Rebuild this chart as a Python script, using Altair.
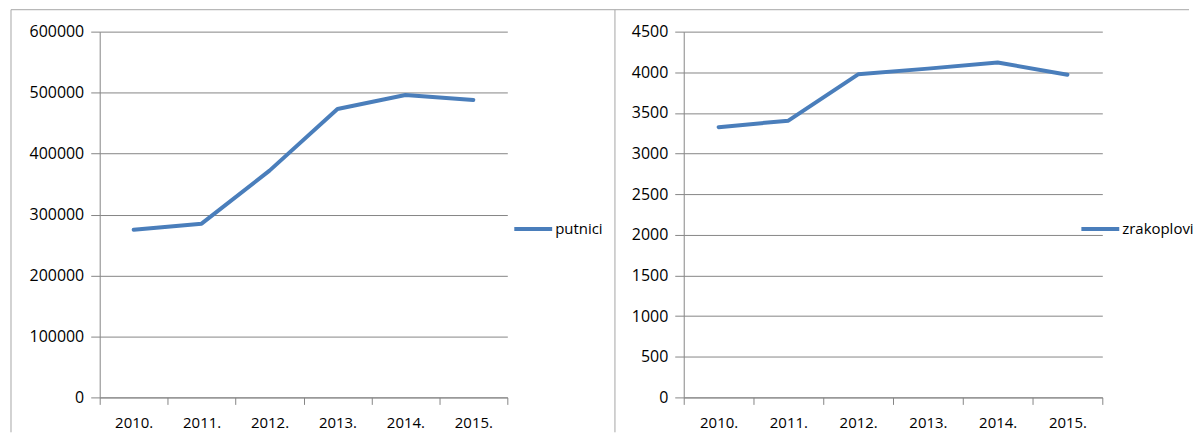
import altair as alt
import pandas as pd

godine = ["2010.", "2011.", "2012.", "2013.", "2014.", "2015."]
putnici = [275000, 285000, 372000, 473000, 496000, 488000]
zrakoplovi = [3325, 3405, 3975, 4045, 4120, 3970]

df1 = pd.DataFrame({"godina": godine, "vrijednost": putnici, "serija": ["putnici"] * 6})
df2 = pd.DataFrame({"godina": godine, "vrijednost": zrakoplovi, "serija": ["zrakoplovi"] * 6})
one = pd.DataFrame({"k": [0]})

BLUE = "#4a7ebb"
GRID = "#868686"
FRAME = "#a6a6a6"
FONT = "Open Sans"
TXT = "#000000"
H = 367


def panel(df, width, ymax, ystep, legx, fx, fx2, fy2):
    x = alt.X(
        "godina:N", sort=godine,
        scale=alt.Scale(type="band", paddingInner=0, paddingOuter=0),
        axis=alt.Axis(title=None, labelAngle=0, tickBand="extent", grid=False,
                      tickSize=7, labelPadding=11, domainColor=GRID, tickColor=GRID,
                      labelFont=FONT, labelFontSize=15, labelColor=TXT),
    )
    y = alt.Y(
        "vrijednost:Q",
        scale=alt.Scale(domain=[0, ymax], nice=False, zero=True),
        axis=alt.Axis(title=None, values=list(range(0, ymax + 1, ystep)), format="d",
                      grid=True, gridColor=GRID, domainColor=GRID, tickColor=GRID,
                      tickSize=9, labelPadding=7, labelFont=FONT, labelFontSize=16,
                      labelColor=TXT),
    )
    line = alt.Chart(df).mark_line(strokeWidth=4, strokeCap="round", strokeJoin="round").encode(
        x=x, y=y,
        color=alt.Color("serija:N", scale=alt.Scale(range=[BLUE]),
                        legend=alt.Legend(orient="none", legendX=legx, legendY=177, title=None,
                                          symbolType="stroke", symbolSize=38 * 38,
                                          symbolStrokeWidth=4, symbolStrokeColor=BLUE,
                                          labelOffset=1, padding=0, labelFont=FONT,
                                          labelFontSize=15, labelColor=TXT)),
    )
    vert = alt.Chart(one).mark_rule(color=FRAME, strokeWidth=1).encode(
        x=alt.value(fx), y=alt.value(-22), y2=alt.value(fy2))
    top = alt.Chart(one).mark_rule(color=FRAME, strokeWidth=1).encode(
        x=alt.value(fx), x2=alt.value(fx2), y=alt.value(-22))
    return alt.layer(vert, top, line).properties(width=width, height=H)


left = panel(df1, 409, 600000, 100000, 414, -89, 517, 402)
right = panel(df2, 420, 4500, 500, 397, -69, 507, 402)

chart = (
    alt.hconcat(left, right, spacing=177, bounds="flush")
    .resolve_scale(color="independent")
    .resolve_legend(color="independent")
    .configure_view(strokeWidth=0)
    .properties(padding={"left": 2, "top": 0, "right": 0, "bottom": 0})
)

chart.save("out.html", embed_options={"renderer": "svg", "actions": False})
